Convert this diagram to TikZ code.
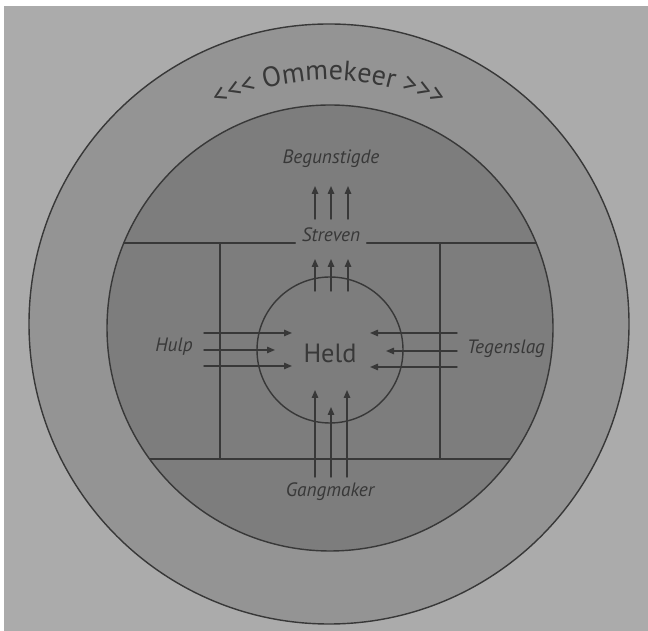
\documentclass[tikz,border=0pt]{standalone}
\usepackage{fontspec}
\setmainfont{PT Sans}
\usetikzlibrary{arrows.meta,decorations.text}
\definecolor{paper}{gray}{0.67}
\definecolor{ring}{gray}{0.58}
\definecolor{disc}{gray}{0.49}
\definecolor{ink}{gray}{0.22}
\tikzset{
  role/.style={font=\fontsize{11}{13}\itshape, text=ink},
  hero/.style={font=\fontsize{15}{18}\selectfont, text=ink},
}
\begin{document}
\begin{tikzpicture}[x=0.02cm, y=0.02cm, line join=round, line cap=round, draw=ink, line width=0.8pt, >={Triangle[length=1.6mm,width=1.3mm]}]
% page
\fill[white] (0,0) rectangle (648,631);
\fill[paper] (4,0) rectangle (648,625);
\useasboundingbox (0,0) rectangle (648,631);
\path (329,307) coordinate (O) (330,303) coordinate (M) (330,281) coordinate (H)
  (124,388) coordinate (SL) (536,388) coordinate (SR)
  (150,172) coordinate (GL) (510,172) coordinate (GR)
  (220,388) coordinate (L1) (220,172) coordinate (L2)
  (440,388) coordinate (R1) (440,172) coordinate (R2);
% circles
\draw[fill=ring] (O) circle (300);
\draw[fill=disc] (M) circle (223);
\draw (H) circle (73);
% labels
\node[hero] (held) at (330,278) {Held};
\node[role] (begunstigde) at (331,472) {Begunstigde};
\node[role] (streven) at (331,396) {Streven};
\node[role] (hulp) at (174,284) {Hulp};
\node[role] (tegenslag) at (506,282) {Tegenslag};
\node[role] (gangmaker) at (330,139) {Gangmaker};
% frame
\draw (SL)--(streven.west |- SL) (streven.east |- SR)--(SR) (GL)--(GR) (L1)--(L2) (R1)--(R2);
% arrows
\foreach \n/\xa/\ya/\xb/\yb in {b1/315/412/315/445, b2/331/412/331/445, b3/348/412/348/445,
    s1/315/340/315/372, s2/331/340/331/372, s3/348/340/348/372,
    h1/204/298/292/298, h2/204/281/275/281, h3/204/265/292/265,
    t1/457/298/370/298, t2/457/280/386/280, t3/457/264/370/264,
    g1/315/154/315/241, g2/331/154/331/224, g3/347/154/347/241}{
  \path (\xa,\ya) coordinate (\n a) (\xb,\yb) coordinate (\n b);
  \draw[->] (\n a)--(\n b);
}
% turning point along the ring
\path[decorate, decoration={text along path, text align=center, text color=ink,
    text={|\fontsize{16}{19}\selectfont|<<< Ommekeer >>>}}]
  (O) ++(125:244) arc[start angle=125, end angle=55, radius=244];
\end{tikzpicture}
\end{document}
